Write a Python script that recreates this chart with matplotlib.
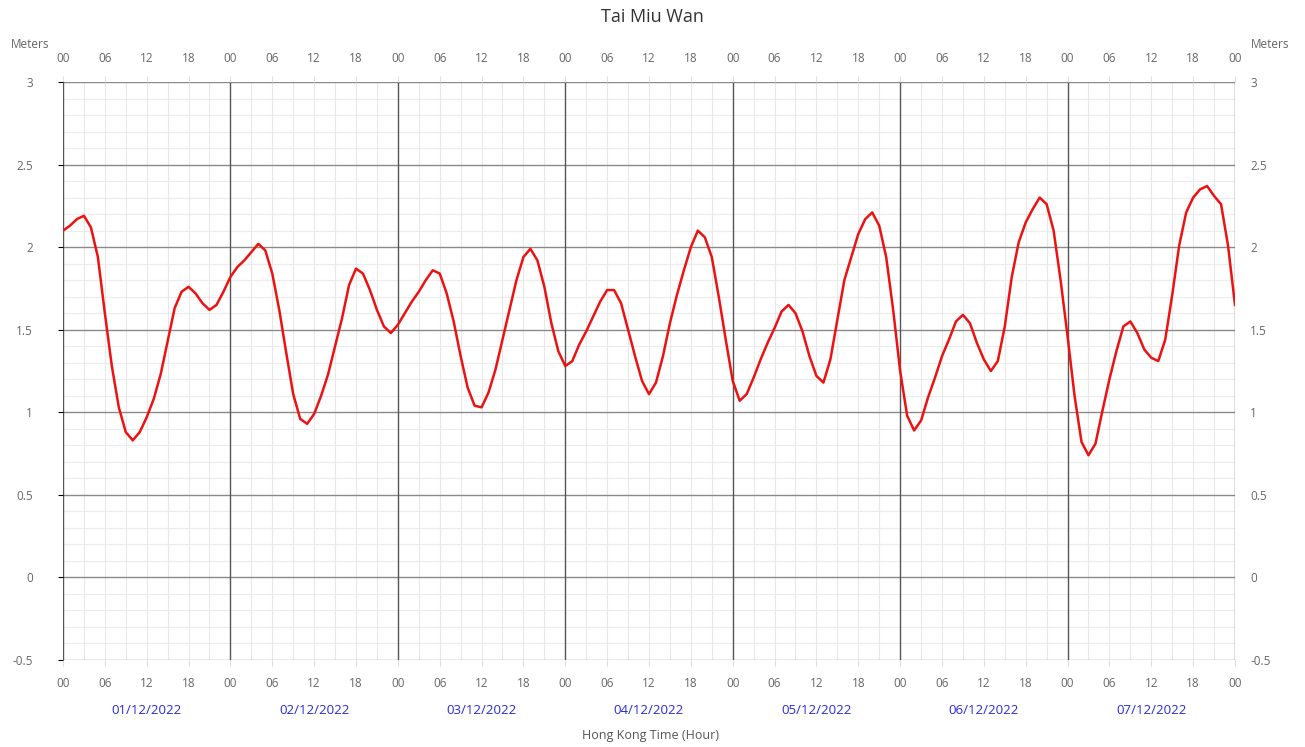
import matplotlib
matplotlib.use("Agg")
import matplotlib.pyplot as plt
from matplotlib.ticker import MultipleLocator

plt.rcParams['font.family'] = ['Open Sans', 'DejaVu Sans']

# Hourly tide height (m), 01/12/2022 00:00 to 08/12/2022 00:00
hours = list(range(169))
tide = [
    2.10, 2.13, 2.17, 2.19, 2.12, 1.94, 1.60, 1.28, 1.03, 0.88, 0.83, 0.88,
    0.97, 1.08, 1.23, 1.43, 1.63, 1.73, 1.76, 1.72, 1.66, 1.62, 1.65, 1.73,
    1.82, 1.88, 1.92, 1.97, 2.02, 1.98, 1.84, 1.62, 1.36, 1.11, 0.96, 0.93,
    0.99, 1.10, 1.23, 1.40, 1.57, 1.77, 1.87, 1.84, 1.74, 1.62, 1.52, 1.48,
    1.53, 1.60, 1.67, 1.73, 1.80, 1.86, 1.84, 1.72, 1.55, 1.34, 1.15, 1.04,
    1.03, 1.12, 1.26, 1.44, 1.62, 1.80, 1.94, 1.99, 1.92, 1.76, 1.54, 1.37,
    1.28, 1.31, 1.41, 1.49, 1.58, 1.67, 1.74, 1.74, 1.66, 1.50, 1.34, 1.19,
    1.11, 1.18, 1.34, 1.54, 1.71, 1.86, 2.00, 2.10, 2.06, 1.94, 1.70, 1.44,
    1.19, 1.07, 1.11, 1.21, 1.32, 1.42, 1.51, 1.61, 1.65, 1.60, 1.49, 1.34,
    1.22, 1.18, 1.32, 1.56, 1.80, 1.94, 2.08, 2.17, 2.21, 2.13, 1.94, 1.62,
    1.25, 0.98, 0.89, 0.95, 1.09, 1.21, 1.34, 1.44, 1.55, 1.59, 1.54, 1.42,
    1.32, 1.25, 1.31, 1.52, 1.82, 2.03, 2.15, 2.23, 2.30, 2.26, 2.10, 1.80,
    1.46, 1.10, 0.82, 0.74, 0.81, 1.01, 1.20, 1.37, 1.52, 1.55, 1.48, 1.38,
    1.33, 1.31, 1.44, 1.71, 2.01, 2.21, 2.30, 2.35, 2.37, 2.31, 2.26, 2.01,
    1.65,
]

dates = ["01/12/2022", "02/12/2022", "03/12/2022", "04/12/2022",
         "05/12/2022", "06/12/2022", "07/12/2022"]
hour_labels = ["00", "06", "12", "18"]
y_ticks = [3, 2.5, 2, 1.5, 1, 0.5, 0, -0.5]
y_labels = ["3", "2.5", "2", "1.5", "1", "0.5", "0", "-0.5"]

W, H = 1305, 747
fig = plt.figure(figsize=(W / 100, H / 100), dpi=100)
ax = fig.add_axes([63 / W, 1 - 660 / H, 1172 / W, 578 / H])

ax.set_xlim(0, 168)
ax.set_ylim(-0.5, 3)

# grid
for v in [i / 10 for i in range(-5, 31)]:
    major = abs(v * 2 - round(v * 2)) < 1e-9
    ax.axhline(v, color="#8a8a8a" if major else "#ececec",
               lw=1.0 if major else 0.8, zorder=1 if major else 0)
for h in range(0, 169, 3):
    if h % 24 == 0:
        ax.axvline(h, color="#555555", lw=1.0, zorder=1)
    else:
        ax.axvline(h, color="#e8e8e8", lw=0.8, zorder=0)

for s in ax.spines.values():
    s.set_visible(False)

ax.plot(hours, tide, color="#ee1111", lw=1.8, zorder=3,
        solid_joinstyle="round")

# ticks
xt = list(range(0, 169, 6))
ax.set_xticks(xt)
ax.set_xticklabels([hour_labels[(h // 6) % 4] for h in xt])
ax.set_yticks(y_ticks)
ax.set_yticklabels(y_labels)
ax.tick_params(axis="x", which="both", top=True, labeltop=True,
               bottom=True, labelbottom=True, length=4, color="#dddddd",
               labelsize=8.5, labelcolor="#666666", pad=8)
ax.tick_params(axis="y", which="both", left=False, right=False,
               labelleft=True, labelright=True, labelsize=8.5,
               labelcolor="#666666")
ax.tick_params(axis="y", which="both", pad=18)
for lab in ax.get_yticklabels(which="both"):
    pass
ax.yaxis.set_tick_params(which="major", pad=18)

# right labels closer to the axes
ax2 = ax.twinx()
ax2.set_ylim(ax.get_ylim())
ax2.set_yticks(y_ticks)
ax2.set_yticklabels(y_labels)
ax2.tick_params(axis="y", length=0, pad=11, labelsize=8.5, labelcolor="#666666")
for s in ax2.spines.values():
    s.set_visible(False)
ax.tick_params(axis="y", labelright=False)

# day labels
for d, lab in enumerate(dates):
    ax.annotate(lab, xy=(12 + 24 * d, 0), xycoords=("data", "axes fraction"),
                xytext=(0, -36), textcoords="offset points",
                ha="center", va="center", fontsize=9.5, color="#2b2bd6")

fig.text(650 / W, 1 - 735 / H, "Hong Kong Time (Hour)", ha="center",
         va="center", fontsize=9, color="#555555")
fig.text(652 / W, 1 - 17 / H, "Tai Miu Wan", ha="center", va="center",
         fontsize=13, color="#333333")
fig.text(30 / W, 1 - 45 / H, "Meters", ha="center", va="center",
         fontsize=8.5, color="#666666")
fig.text(1270 / W, 1 - 45 / H, "Meters", ha="center", va="center",
         fontsize=8.5, color="#666666")

fig.savefig("out.png", dpi=100, facecolor="white")
